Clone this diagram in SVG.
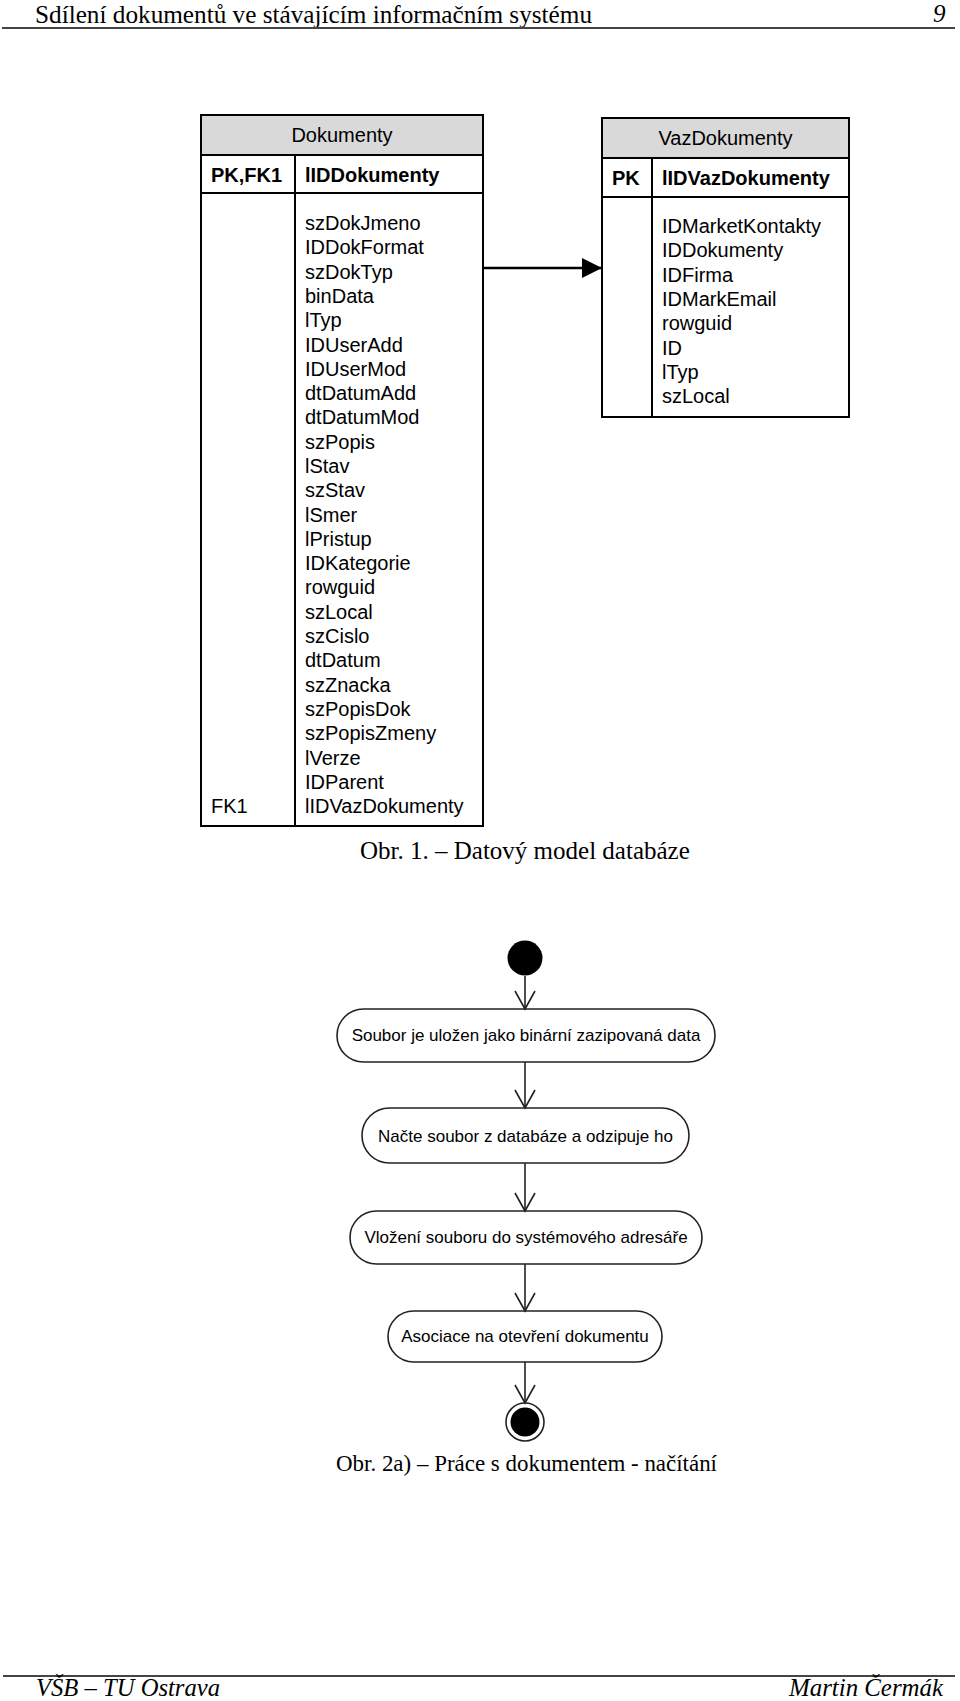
<svg xmlns="http://www.w3.org/2000/svg" width="960" height="1701" viewBox="0 0 960 1701">
<style>
.serif{font-family:"Liberation Serif","Times New Roman",serif;fill:#000}
.sans{font-family:"Liberation Sans",Arial,sans-serif;fill:#000}
.tbl{fill:#fff;stroke:#000;stroke-width:2}
.hdr{fill:#d9d9d9;stroke:#000;stroke-width:2}
.ln{stroke:#000;stroke-width:2;fill:none}
.f{font-size:20px}
.act{fill:#fff;stroke:#222;stroke-width:1.6}
.at{font-size:17px;text-anchor:middle}
.conn{stroke:#222;stroke-width:1.6;fill:none}
.rule{stroke:#444;stroke-width:2}
</style>
<defs>
<marker id="vee" markerWidth="22" markerHeight="22" refX="20" refY="11" orient="auto" markerUnits="userSpaceOnUse">
<path d="M2,1 L20,11 L2,21" fill="none" stroke="#222" stroke-width="1.6"/>
</marker>
<marker id="tri" markerWidth="22" markerHeight="22" refX="20" refY="11" orient="auto" markerUnits="userSpaceOnUse">
<path d="M0,1 L20,11 L0,21 Z" fill="#000"/>
</marker>
</defs>

<g id="page-header">
<text class="serif" x="35" y="23" font-size="25.5" textLength="557" lengthAdjust="spacingAndGlyphs">Sdílení dokumentů ve stávajícím informačním systému</text>
<text class="serif" x="933" y="22" font-size="25" font-style="italic">9</text>
<line class="rule" x1="2" y1="28" x2="955" y2="28"/>
</g>

<g id="tbl-dokumenty">
<rect class="tbl" x="201" y="115" width="282" height="711"/>
<rect class="hdr" x="201" y="115" width="282" height="40"/>
<line class="ln" x1="201" y1="193" x2="483" y2="193"/>
<line class="ln" x1="295" y1="155" x2="295" y2="826"/>
<text class="sans f" x="342" y="142" text-anchor="middle">Dokumenty</text>
<text class="sans f" x="211" y="182" font-weight="bold">PK,FK1</text>
<text class="sans f" x="305" y="182" font-weight="bold">lIDDokumenty</text>
<text class="sans f" x="211" y="813">FK1</text>
<text class="sans f">
<tspan x="305" y="230">szDokJmeno</tspan>
<tspan x="305" y="254.3">IDDokFormat</tspan>
<tspan x="305" y="278.6">szDokTyp</tspan>
<tspan x="305" y="302.9">binData</tspan>
<tspan x="305" y="327.2">lTyp</tspan>
<tspan x="305" y="351.5">IDUserAdd</tspan>
<tspan x="305" y="375.7">IDUserMod</tspan>
<tspan x="305" y="400">dtDatumAdd</tspan>
<tspan x="305" y="424.3">dtDatumMod</tspan>
<tspan x="305" y="448.6">szPopis</tspan>
<tspan x="305" y="472.9">lStav</tspan>
<tspan x="305" y="497.2">szStav</tspan>
<tspan x="305" y="521.5">lSmer</tspan>
<tspan x="305" y="545.8">lPristup</tspan>
<tspan x="305" y="570.1">IDKategorie</tspan>
<tspan x="305" y="594.4">rowguid</tspan>
<tspan x="305" y="618.7">szLocal</tspan>
<tspan x="305" y="643">szCislo</tspan>
<tspan x="305" y="667.3">dtDatum</tspan>
<tspan x="305" y="691.6">szZnacka</tspan>
<tspan x="305" y="715.9">szPopisDok</tspan>
<tspan x="305" y="740.2">szPopisZmeny</tspan>
<tspan x="305" y="764.5">lVerze</tspan>
<tspan x="305" y="788.8">IDParent</tspan>
<tspan x="305" y="813">lIDVazDokumenty</tspan>
</text>
</g>

<g id="tbl-vazdokumenty">
<rect class="tbl" x="602" y="118" width="247" height="299"/>
<rect class="hdr" x="602" y="118" width="247" height="40"/>
<line class="ln" x1="602" y1="197" x2="849" y2="197"/>
<line class="ln" x1="652" y1="158" x2="652" y2="417"/>
<text class="sans f" x="725.5" y="145" text-anchor="middle">VazDokumenty</text>
<text class="sans f" x="612" y="185" font-weight="bold">PK</text>
<text class="sans f" x="662" y="185" font-weight="bold">lIDVazDokumenty</text>
<text class="sans f">
<tspan x="662" y="233">IDMarketKontakty</tspan>
<tspan x="662" y="257.3">IDDokumenty</tspan>
<tspan x="662" y="281.6">IDFirma</tspan>
<tspan x="662" y="305.9">IDMarkEmail</tspan>
<tspan x="662" y="330.2">rowguid</tspan>
<tspan x="662" y="354.5">ID</tspan>
<tspan x="662" y="378.7">lTyp</tspan>
<tspan x="662" y="403">szLocal</tspan>
</text>
</g>

<g id="er-connectors">
<line x1="484" y1="268" x2="602" y2="268" stroke="#000" stroke-width="2.5" marker-end="url(#tri)"/>
</g>

<text id="caption-1" class="serif" x="360" y="859" font-size="25">Obr. 1. – Datový model databáze</text>

<g id="act-start">
<circle cx="525" cy="958" r="17.5" fill="#000"/>
</g>
<g id="act-1">
<rect class="act" x="337" y="1009" width="378" height="53" rx="26.5"/>
<text class="sans at" x="526" y="1041">Soubor je uložen jako binární zazipovaná data</text>
</g>
<g id="act-2">
<rect class="act" x="362" y="1108" width="327" height="55" rx="27.5"/>
<text class="sans at" x="525.5" y="1142">Načte soubor z databáze a odzipuje ho</text>
</g>
<g id="act-3">
<rect class="act" x="350" y="1211" width="352" height="53" rx="26.5"/>
<text class="sans at" x="526" y="1243">Vložení souboru do systémového adresáře</text>
</g>
<g id="act-4">
<rect class="act" x="388" y="1311" width="274" height="51" rx="25.5"/>
<text class="sans at" x="525" y="1342">Asociace na otevření dokumentu</text>
</g>
<g id="act-end">
<circle cx="525" cy="1422" r="19" fill="#fff" stroke="#222" stroke-width="1.6"/>
<circle cx="525" cy="1422" r="14.5" fill="#000"/>
</g>

<g id="act-connectors">
<line class="conn" x1="525" y1="976" x2="525" y2="1009" marker-end="url(#vee)"/>
<line class="conn" x1="525" y1="1062" x2="525" y2="1108" marker-end="url(#vee)"/>
<line class="conn" x1="525" y1="1163" x2="525" y2="1211" marker-end="url(#vee)"/>
<line class="conn" x1="525" y1="1264" x2="525" y2="1311" marker-end="url(#vee)"/>
<line class="conn" x1="525" y1="1362" x2="525" y2="1403" marker-end="url(#vee)"/>
</g>

<text id="caption-2" class="serif" x="336" y="1471" font-size="24" textLength="381" lengthAdjust="spacingAndGlyphs">Obr. 2a) – Práce s dokumentem - načítání</text>

<g id="page-footer">
<line class="rule" x1="3" y1="1676" x2="955" y2="1676"/>
<text class="serif" x="36" y="1696" font-size="25" font-style="italic" textLength="184" lengthAdjust="spacingAndGlyphs">VŠB – TU Ostrava</text>
<text class="serif" x="789" y="1696" font-size="25" font-style="italic" textLength="154" lengthAdjust="spacingAndGlyphs">Martin Čermák</text>
</g>
</svg>
